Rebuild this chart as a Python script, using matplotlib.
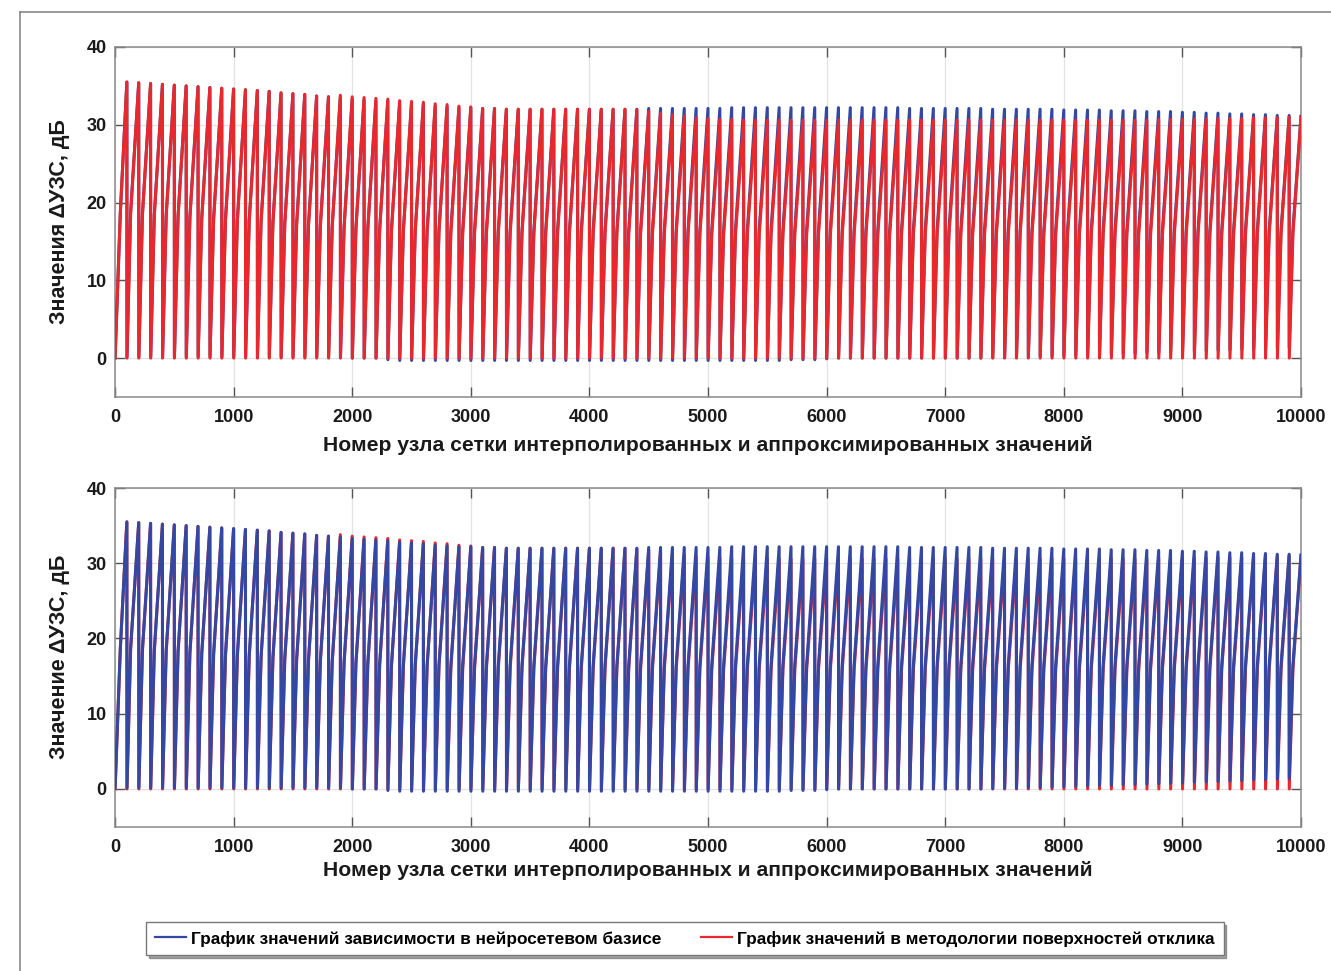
import matplotlib
matplotlib.use("Agg")
import matplotlib.pyplot as plt
from matplotlib.lines import Line2D

plt.rcParams['font.family'] = ['Liberation Sans', 'DejaVu Sans']

# ---------------- data ----------------
period_len = 100          # nodes per tooth
n_periods = 100
first_kink_offset = 45    # first tooth rises more slowly
blue_kink_offset = 31
red_kink_offset = 32

blue_peak = [35.5, 35.4, 35.3, 35.2, 35.1, 35.0, 34.9, 34.8, 34.7, 34.6,
             34.5, 34.4, 34.3, 34.1, 34.0, 33.9, 33.7, 33.6, 33.5, 33.3,
             33.2, 33.1, 33.0, 32.8, 32.7, 32.6, 32.4, 32.3, 32.2, 32.2,
             32.1, 32.1, 32.0, 32.0, 32.0, 32.0, 32.0, 32.0, 32.0, 32.0,
             32.0, 32.0, 32.0, 32.0, 32.1, 32.1, 32.1, 32.1, 32.1, 32.1,
             32.1, 32.2, 32.2, 32.2, 32.2, 32.2, 32.2, 32.2, 32.2, 32.2,
             32.2, 32.2, 32.2, 32.2, 32.2, 32.2, 32.1, 32.1, 32.1, 32.1,
             32.1, 32.1, 32.1, 32.0, 32.0, 32.0, 32.0, 32.0, 32.0, 31.9,
             31.9, 31.9, 31.9, 31.8, 31.8, 31.8, 31.7, 31.7, 31.7, 31.6,
             31.6, 31.5, 31.5, 31.4, 31.4, 31.3, 31.3, 31.2, 31.2, 31.1]

red_peak = [35.5, 35.4, 35.3, 35.2, 35.1, 35.0, 34.9, 34.8, 34.7, 34.6,
            34.5, 34.4, 34.3, 34.1, 34.0, 33.9, 33.7, 33.6, 33.8, 33.6,
            33.5, 33.4, 33.3, 33.1, 33.0, 32.9, 32.7, 32.6, 32.4, 32.3,
            32.1, 32.1, 32.0, 32.0, 32.0, 32.0, 32.0, 32.0, 32.0, 32.0,
            32.0, 32.0, 32.0, 31.9, 31.7, 31.5, 31.3, 31.1, 30.9, 30.8,
            30.7, 30.7, 30.6, 30.6, 30.6, 30.6, 30.6, 30.6, 30.6, 30.6,
            30.6, 30.6, 30.6, 30.6, 30.6, 30.6, 30.6, 30.6, 30.6, 30.6,
            30.6, 30.6, 30.6, 30.6, 30.6, 30.6, 30.6, 30.6, 30.6, 30.6,
            30.6, 30.6, 30.6, 30.6, 30.6, 30.6, 30.6, 30.7, 30.7, 30.7,
            30.7, 30.7, 30.8, 30.8, 30.8, 30.9, 30.9, 30.9, 31.0, 31.0]

blue_kink = [18.7, 18.6, 18.5, 18.4, 18.3, 18.2, 18.1, 18.0, 17.9, 17.8,
             17.7, 17.6, 17.5, 17.4, 17.3, 17.2, 17.1, 17.0, 16.9, 16.8,
             16.7, 16.6, 16.5, 16.5, 16.4, 16.4, 16.3, 16.3, 16.3, 16.3,
             16.3, 16.3, 16.3, 16.3, 16.3, 16.3, 16.3, 16.3, 16.3, 16.3,
             16.3, 16.3, 16.3, 16.3, 16.3, 16.3, 16.3, 16.3, 16.3, 16.3,
             16.3, 16.3, 16.3, 16.3, 16.3, 16.3, 16.3, 16.3, 16.3, 16.3,
             16.3, 16.3, 16.3, 16.3, 16.3, 16.3, 16.3, 16.3, 16.3, 16.3,
             16.3, 16.3, 16.3, 16.3, 16.3, 16.3, 16.3, 16.3, 16.3, 16.3,
             16.3, 16.3, 16.3, 16.3, 16.3, 16.3, 16.3, 16.3, 16.3, 16.3,
             16.3, 16.3, 16.3, 16.3, 16.3, 16.3, 16.3, 16.3, 16.3, 16.3]

red_kink = [18.7, 18.6, 18.5, 18.4, 18.3, 18.2, 18.1, 18.0, 17.9, 17.8,
            17.7, 17.6, 17.5, 17.4, 17.3, 17.2, 17.1, 17.0, 16.9, 16.8,
            16.7, 16.6, 16.5, 16.5, 16.4, 16.4, 16.3, 16.3, 16.0, 16.0,
            16.0, 16.0, 16.0, 16.0, 16.0, 16.0, 16.0, 16.0, 16.0, 16.0,
            16.0, 16.0, 16.0, 16.0, 16.0, 16.0, 16.0, 16.0, 16.0, 16.0,
            15.9, 15.9, 15.9, 15.9, 15.9, 15.9, 15.9, 15.9, 15.9, 15.9,
            15.9, 15.9, 15.9, 15.9, 15.9, 15.9, 15.9, 15.9, 15.9, 15.9,
            15.9, 15.9, 15.9, 15.9, 15.9, 15.9, 15.9, 15.9, 15.9, 15.9,
            15.9, 15.9, 15.9, 15.9, 15.9, 15.9, 15.9, 15.9, 15.9, 15.9,
            15.9, 15.9, 15.9, 15.9, 15.9, 15.9, 15.9, 15.9, 15.9, 15.9]

blue_min = [0.15, 0.15, 0.15, 0.15, 0.15, 0.15, 0.15, 0.15, 0.15, 0.15,
            0.15, 0.15, 0.15, 0.15, 0.15, 0.15, 0.15, 0.15, 0.15, 0.15,
            0.0, 0.0, 0.0, -0.2, -0.3, -0.3, -0.3, -0.3, -0.3, -0.3,
            -0.3, -0.3, -0.3, -0.3, -0.3, -0.3, -0.3, -0.3, -0.3, -0.3,
            -0.3, -0.3, -0.3, -0.3, -0.3, -0.3, -0.3, -0.3, -0.3, -0.3,
            -0.3, -0.3, -0.3, -0.3, -0.3, -0.3, -0.3, -0.2, -0.2, -0.2,
            -0.1, 0.0, 0.0, 0.0, 0.0, 0.0, 0.0, 0.0, 0.0, 0.0,
            0.0, 0.0, 0.0, 0.0, 0.05, 0.1, 0.1, 0.15, 0.2, 0.25,
            0.3, 0.35, 0.4, 0.45, 0.5, 0.55, 0.6, 0.65, 0.7, 0.75,
            0.8, 0.9, 0.95, 1.0, 1.05, 1.1, 1.2, 1.25, 1.3, 1.4]

red_min = [0.0] * n_periods

x_ticks = [0, 1000, 2000, 3000, 4000, 5000, 6000, 7000, 8000, 9000, 10000]
y_ticks = [0, 10, 20, 30, 40]

xlabel_text = "Номер узла сетки интерполированных и аппроксимированных значений"
ylabel_top = "Значения ΔУЗС, дБ"
ylabel_bottom = "Значение ΔУЗС, дБ"
legend_blue = "График значений зависимости в нейросетевом базисе"
legend_red = "График значений в методологии поверхностей отклика"

BLUE = "#3347A3"
RED = "#E8282C"


def build_series(mins, kinks, peaks, kink_offset):
    xs, ys = [], []
    for i in range(n_periods):
        base = i * period_len
        k = first_kink_offset if i == 0 else kink_offset
        xs += [base + 1, base + k, base + period_len]
        ys += [mins[i], kinks[i], peaks[i]]
    return xs, ys


bx, by = build_series(blue_min, blue_kink, blue_peak, blue_kink_offset)
rx, ry = build_series(red_min, red_kink, red_peak, red_kink_offset)

fig = plt.figure(figsize=(13.31, 9.71), dpi=100)

W, H = 1331.0, 971.0
ax_top = fig.add_axes([115 / W, 1 - 397 / H, 1186 / W, 350 / H])
ax_bot = fig.add_axes([115 / W, 1 - 826.6 / H, 1186 / W, 338.6 / H])

lw = 2.2
ax_top.plot(bx, by, color=BLUE, lw=lw, zorder=3)
ax_top.plot(rx, ry, color=RED, lw=lw, zorder=4)
ax_bot.plot(rx, ry, color=RED, lw=lw, zorder=3)
ax_bot.plot(bx, by, color=BLUE, lw=lw, zorder=4)

for ax, ylab in ((ax_top, ylabel_top), (ax_bot, ylabel_bottom)):
    ax.set_xlim(0, 10000)
    ax.set_ylim(-5, 40)
    ax.set_xticks(x_ticks)
    ax.set_yticks(y_ticks)
    ax.set_xticklabels([str(t) for t in x_ticks])
    ax.set_yticklabels([str(t) for t in y_ticks])
    ax.grid(True, color="#e3e3e3", lw=0.9, zorder=0)
    ax.set_axisbelow(True)
    ax.tick_params(direction="in", length=7, width=1.0, color="#555555",
                   top=True, right=True, labelsize=13, labelcolor="#1a1a1a")
    ax.tick_params(axis="x", pad=9)
    ax.tick_params(axis="y", pad=6)
    for lab in ax.get_xticklabels() + ax.get_yticklabels():
        lab.set_fontweight("bold")
    for s in ax.spines.values():
        s.set_color("#8a8a8a")
        s.set_linewidth(1.1)
    ax.set_xlabel(xlabel_text, fontsize=15.2, fontweight="bold", color="#1a1a1a")
    ax.set_ylabel(ylab, fontsize=15.5, fontweight="bold", color="#1a1a1a")
    ax.yaxis.set_label_coords(-0.038, 0.5)

ax_top.xaxis.set_label_coords(0.5, -0.112)
ax_bot.xaxis.set_label_coords(0.5, -0.103)

handles = [Line2D([], [], color=BLUE, lw=1.6), Line2D([], [], color=RED, lw=1.6)]
leg = fig.legend(handles, [legend_blue, legend_red], loc="center",
                 bbox_to_anchor=(685 / W, 1 - 938.5 / H), ncol=2,
                 frameon=True, fancybox=False, shadow=True,
                 prop={"weight": "bold", "size": 12.4},
                 handlelength=1.8, handletextpad=0.3, columnspacing=2.3,
                 borderpad=0.5)
leg.get_frame().set_edgecolor("#777777")
leg.get_frame().set_linewidth(1.0)

# outer border of the figure panel
fig.add_artist(Line2D([20 / W, 20 / W], [0, 1 - 12 / H], color="#888888", lw=1.2,
                      transform=fig.transFigure))
fig.add_artist(Line2D([20 / W, 1], [1 - 12 / H, 1 - 12 / H], color="#888888", lw=1.2,
                      transform=fig.transFigure))

fig.savefig("out.png", dpi=100)
